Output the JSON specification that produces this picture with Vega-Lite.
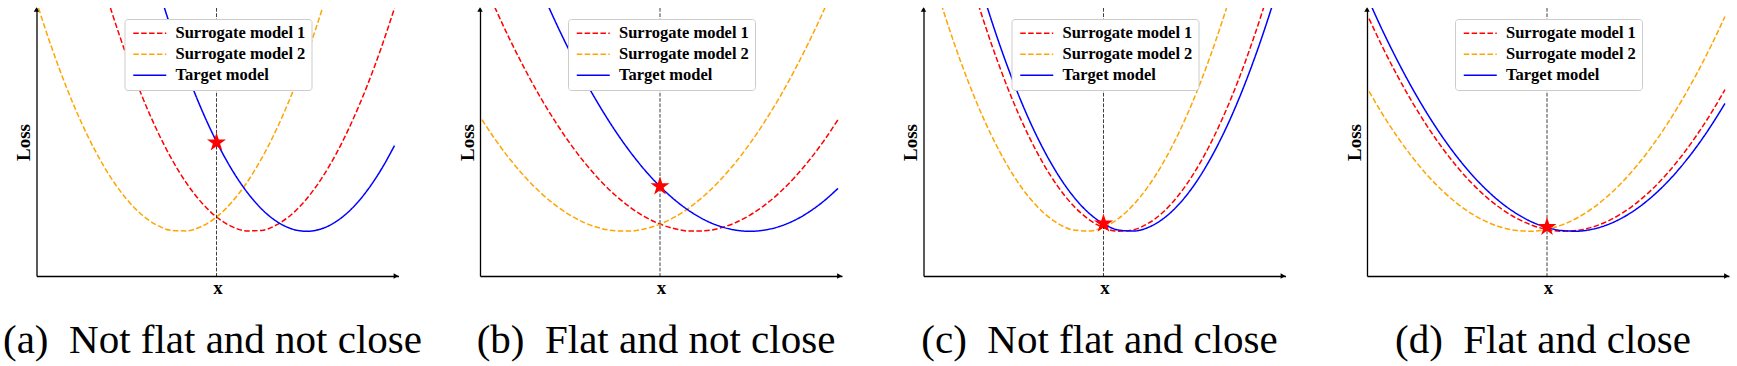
{
  "$schema": "https://vega.github.io/schema/vega-lite/v6.json",
  "padding": {"left": 2.5, "top": 7, "right": 5, "bottom": 5},
  "bounds": "flush",
  "spacing": 81.5,
  "config": {
    "view": {"stroke": null},
    "font": "Liberation Serif",
    "axis": {"domainColor": "black", "domainWidth": 1.3, "ticks": false, "labels": false, "grid": false, "titleFont": "Liberation Serif", "titleFontSize": 19, "titleFontWeight": "bold", "titleColor": "black"},
    "legend": {"labelFont": "Liberation Serif", "labelFontSize": 16.5, "labelFontWeight": "bold", "labelColor": "black", "symbolType": "M-1,0H5", "symbolSize": 121, "symbolStrokeWidth": 1.5, "padding": 6, "rowPadding": 4, "columnPadding": 0, "labelOffset": 28.5, "strokeColor": "#cccccc", "fillColor": "white", "cornerRadius": 3},
    "title": {"font": "Liberation Serif", "fontSize": 41, "fontWeight": "normal", "color": "black", "orient": "bottom", "anchor": "middle", "offset": 24}
  },
  "resolve": {
    "scale": {"x": "independent", "y": "independent", "color": "independent", "strokeDash": "independent", "shape": "independent"},
    "legend": {"color": "independent", "strokeDash": "independent"}
  },
  "datasets": {
    "curves": [
      {"p": "a", "x": 2, "s1": 551.7, "s2": 267.9, "tgt": 839.8},
      {"p": "a", "x": 15, "s1": 491.9, "s2": 228.9, "tgt": 764.5},
      {"p": "a", "x": 30, "s1": 427.7, "s2": 188.6, "tgt": 682.3},
      {"p": "a", "x": 45, "s1": 368.4, "s2": 153.2, "tgt": 605.1},
      {"p": "a", "x": 60, "s1": 314.1, "s2": 122.8, "tgt": 532.9},
      {"p": "a", "x": 75, "s1": 264.8, "s2": 97.4, "tgt": 465.6},
      {"p": "a", "x": 90, "s1": 220.4, "s2": 77.0, "tgt": 403.4},
      {"p": "a", "x": 105, "s1": 181.1, "s2": 61.5, "tgt": 346.1},
      {"p": "a", "x": 120, "s1": 146.7, "s2": 51.1, "tgt": 293.8},
      {"p": "a", "x": 135, "s1": 117.3, "s2": 45.6, "tgt": 246.4},
      {"p": "a", "x": 150, "s1": 92.9, "s2": 45.1, "tgt": 204.1},
      {"p": "a", "x": 165, "s1": 73.5, "s2": 49.6, "tgt": 166.7},
      {"p": "a", "x": 180, "s1": 59.0, "s2": 59.0, "tgt": 134.4},
      {"p": "a", "x": 195, "s1": 49.6, "s2": 73.5, "tgt": 107.0},
      {"p": "a", "x": 210, "s1": 45.1, "s2": 92.9, "tgt": 84.6},
      {"p": "a", "x": 225, "s1": 45.6, "s2": 117.3, "tgt": 67.1},
      {"p": "a", "x": 240, "s1": 51.1, "s2": 146.7, "tgt": 54.7},
      {"p": "a", "x": 255, "s1": 61.5, "s2": 181.1, "tgt": 47.2},
      {"p": "a", "x": 270, "s1": 77.0, "s2": 220.4, "tgt": 44.7},
      {"p": "a", "x": 285, "s1": 97.4, "s2": 264.8, "tgt": 47.2},
      {"p": "a", "x": 300, "s1": 122.8, "s2": 314.1, "tgt": 54.7},
      {"p": "a", "x": 315, "s1": 153.2, "s2": 368.4, "tgt": 67.1},
      {"p": "a", "x": 330, "s1": 188.6, "s2": 427.7, "tgt": 84.6},
      {"p": "a", "x": 345, "s1": 228.9, "s2": 491.9, "tgt": 107.0},
      {"p": "a", "x": 358, "s1": 267.9, "s2": 551.7, "tgt": 130.4},
      {"p": "b", "x": 2, "s1": 298.2, "s2": 156.3, "tgt": 442.3},
      {"p": "b", "x": 15, "s1": 268.3, "s2": 136.8, "tgt": 404.6},
      {"p": "b", "x": 30, "s1": 236.2, "s2": 116.7, "tgt": 363.5},
      {"p": "b", "x": 45, "s1": 206.6, "s2": 99.0, "tgt": 324.9},
      {"p": "b", "x": 60, "s1": 179.4, "s2": 83.8, "tgt": 288.8},
      {"p": "b", "x": 75, "s1": 154.8, "s2": 71.1, "tgt": 255.2},
      {"p": "b", "x": 90, "s1": 132.6, "s2": 60.9, "tgt": 224.1},
      {"p": "b", "x": 105, "s1": 112.9, "s2": 53.1, "tgt": 195.4},
      {"p": "b", "x": 120, "s1": 95.7, "s2": 47.9, "tgt": 169.3},
      {"p": "b", "x": 135, "s1": 81.0, "s2": 45.2, "tgt": 145.6},
      {"p": "b", "x": 150, "s1": 68.8, "s2": 44.9, "tgt": 124.4},
      {"p": "b", "x": 165, "s1": 59.1, "s2": 47.2, "tgt": 105.7},
      {"p": "b", "x": 180, "s1": 51.9, "s2": 51.9, "tgt": 89.6},
      {"p": "b", "x": 195, "s1": 47.2, "s2": 59.1, "tgt": 75.9},
      {"p": "b", "x": 210, "s1": 44.9, "s2": 68.8, "tgt": 64.7},
      {"p": "b", "x": 225, "s1": 45.2, "s2": 81.0, "tgt": 55.9},
      {"p": "b", "x": 240, "s1": 47.9, "s2": 95.7, "tgt": 49.7},
      {"p": "b", "x": 255, "s1": 53.1, "s2": 112.9, "tgt": 46.0},
      {"p": "b", "x": 270, "s1": 60.9, "s2": 132.6, "tgt": 44.7},
      {"p": "b", "x": 285, "s1": 71.1, "s2": 154.8, "tgt": 46.0},
      {"p": "b", "x": 300, "s1": 83.8, "s2": 179.4, "tgt": 49.7},
      {"p": "b", "x": 315, "s1": 99.0, "s2": 206.6, "tgt": 55.9},
      {"p": "b", "x": 330, "s1": 116.7, "s2": 236.2, "tgt": 64.7},
      {"p": "b", "x": 345, "s1": 136.8, "s2": 268.3, "tgt": 75.9},
      {"p": "b", "x": 358, "s1": 156.3, "s2": 298.2, "tgt": 87.6},
      {"p": "c", "x": 2, "s1": 470.0, "s2": 324.6, "tgt": 505.4},
      {"p": "c", "x": 15, "s1": 415.4, "s2": 280.7, "tgt": 448.5},
      {"p": "c", "x": 30, "s1": 357.1, "s2": 234.7, "tgt": 387.6},
      {"p": "c", "x": 45, "s1": 303.8, "s2": 193.7, "tgt": 331.6},
      {"p": "c", "x": 60, "s1": 255.5, "s2": 157.6, "tgt": 280.7},
      {"p": "c", "x": 75, "s1": 212.2, "s2": 126.6, "tgt": 234.7},
      {"p": "c", "x": 90, "s1": 173.8, "s2": 100.5, "tgt": 193.7},
      {"p": "c", "x": 105, "s1": 140.4, "s2": 79.4, "tgt": 157.6},
      {"p": "c", "x": 120, "s1": 112.0, "s2": 63.3, "tgt": 126.6},
      {"p": "c", "x": 135, "s1": 88.6, "s2": 52.2, "tgt": 100.5},
      {"p": "c", "x": 150, "s1": 70.2, "s2": 46.0, "tgt": 79.4},
      {"p": "c", "x": 165, "s1": 56.8, "s2": 44.9, "tgt": 63.3},
      {"p": "c", "x": 180, "s1": 48.3, "s2": 48.7, "tgt": 52.2},
      {"p": "c", "x": 195, "s1": 44.8, "s2": 57.5, "tgt": 46.0},
      {"p": "c", "x": 210, "s1": 46.3, "s2": 71.3, "tgt": 44.9},
      {"p": "c", "x": 225, "s1": 52.8, "s2": 90.0, "tgt": 48.7},
      {"p": "c", "x": 240, "s1": 64.2, "s2": 113.8, "tgt": 57.5},
      {"p": "c", "x": 255, "s1": 80.7, "s2": 142.5, "tgt": 71.3},
      {"p": "c", "x": 270, "s1": 102.1, "s2": 176.2, "tgt": 90.0},
      {"p": "c", "x": 285, "s1": 128.5, "s2": 214.9, "tgt": 113.8},
      {"p": "c", "x": 300, "s1": 159.9, "s2": 258.6, "tgt": 142.5},
      {"p": "c", "x": 315, "s1": 196.2, "s2": 307.2, "tgt": 176.2},
      {"p": "c", "x": 330, "s1": 237.6, "s2": 360.9, "tgt": 214.9},
      {"p": "c", "x": 345, "s1": 283.9, "s2": 419.5, "tgt": 258.6},
      {"p": "c", "x": 358, "s1": 328.1, "s2": 474.3, "tgt": 300.5},
      {"p": "d", "x": 2, "s1": 257.4, "s2": 184.7, "tgt": 275.1},
      {"p": "d", "x": 15, "s1": 230.1, "s2": 162.7, "tgt": 246.6},
      {"p": "d", "x": 30, "s1": 200.9, "s2": 139.7, "tgt": 216.2},
      {"p": "d", "x": 45, "s1": 174.3, "s2": 119.2, "tgt": 188.2},
      {"p": "d", "x": 60, "s1": 150.1, "s2": 101.2, "tgt": 162.7},
      {"p": "d", "x": 75, "s1": 128.5, "s2": 85.7, "tgt": 139.7},
      {"p": "d", "x": 90, "s1": 109.3, "s2": 72.6, "tgt": 119.2},
      {"p": "d", "x": 105, "s1": 92.6, "s2": 62.1, "tgt": 101.2},
      {"p": "d", "x": 120, "s1": 78.4, "s2": 54.0, "tgt": 85.7},
      {"p": "d", "x": 135, "s1": 66.7, "s2": 48.5, "tgt": 72.6},
      {"p": "d", "x": 150, "s1": 57.5, "s2": 45.4, "tgt": 62.1},
      {"p": "d", "x": 165, "s1": 50.8, "s2": 44.8, "tgt": 54.0},
      {"p": "d", "x": 180, "s1": 46.5, "s2": 46.7, "tgt": 48.5},
      {"p": "d", "x": 195, "s1": 44.8, "s2": 51.1, "tgt": 45.4},
      {"p": "d", "x": 210, "s1": 45.5, "s2": 58.0, "tgt": 44.8},
      {"p": "d", "x": 225, "s1": 48.8, "s2": 67.4, "tgt": 46.7},
      {"p": "d", "x": 240, "s1": 54.5, "s2": 79.3, "tgt": 51.1},
      {"p": "d", "x": 255, "s1": 62.7, "s2": 93.6, "tgt": 58.0},
      {"p": "d", "x": 270, "s1": 73.4, "s2": 110.5, "tgt": 67.4},
      {"p": "d", "x": 285, "s1": 86.6, "s2": 129.8, "tgt": 79.3},
      {"p": "d", "x": 300, "s1": 102.3, "s2": 151.7, "tgt": 93.6},
      {"p": "d", "x": 315, "s1": 120.5, "s2": 176.0, "tgt": 110.5},
      {"p": "d", "x": 330, "s1": 141.2, "s2": 202.8, "tgt": 129.8},
      {"p": "d", "x": 345, "s1": 164.3, "s2": 232.1, "tgt": 151.7},
      {"p": "d", "x": 358, "s1": 186.4, "s2": 259.5, "tgt": 172.6}
    ],
    "stars": [
      {"p": "a", "x": 180, "y": 133.5},
      {"p": "b", "x": 180, "y": 89.6},
      {"p": "c", "x": 180, "y": 52.4},
      {"p": "d", "x": 180, "y": 49.0}
    ],
    "arrows": [
      {"axis": "x", "x": 359.5, "y": 0},
      {"axis": "y", "x": 0, "y": 266.5}
    ]
  },
  "hconcat": [
    {
      "width": 362, "height": 268,
      "title": {"text": "(a)\u00a0 Not flat and not close", "dx": -5},
      "layer": [
        {"data": {"name": "curves"},
         "transform": [{"filter": "datum.p == 'a'"}, {"fold": ["s1", "s2", "tgt"], "as": ["model", "loss"]}],
         "mark": {"type": "line", "clip": true, "interpolate": "monotone", "strokeWidth": 1.5},
         "encoding": {
           "x": {"field": "x", "type": "quantitative", "scale": {"domain": [0, 362], "nice": false}, "axis": {"title": "x", "titleFontSize": 19, "titleFontWeight": "bold", "titleFont": "Liberation Serif", "titleColor": "black", "titlePadding": 2, "domainWidth": 1.3, "domainColor": "black", "ticks": false, "labels": false, "grid": false}},
           "y": {"field": "loss", "type": "quantitative", "scale": {"domain": [0, 268], "nice": false}, "axis": {"title": "Loss", "titleFontSize": 19, "titleFontWeight": "bold", "titleFont": "Liberation Serif", "titleColor": "black", "titlePadding": 3, "domainWidth": 1.3, "domainColor": "black", "ticks": false, "labels": false, "grid": false}},
           "color": {"field": "model", "type": "nominal", "scale": {"domain": ["s1", "s2", "tgt"], "range": ["#ff0000", "#ffa500", "#0000ff"]},
                     "legend": {"title": null, "orient": "none", "legendX": 88, "legendY": 11, "labelExpr": "datum.value == 's1' ? 'Surrogate model 1' : datum.value == 's2' ? 'Surrogate model 2' : 'Target model'"}},
           "strokeDash": {"field": "model", "type": "nominal", "scale": {"domain": ["s1", "s2", "tgt"], "range": [[5.5, 2.4], [5.5, 2.4], [1, 0]]},
                     "legend": {"title": null, "orient": "none", "legendX": 88, "legendY": 11, "labelExpr": "datum.value == 's1' ? 'Surrogate model 1' : datum.value == 's2' ? 'Surrogate model 2' : 'Target model'"}}
         }},
        {"data": {"name": "stars"}, "transform": [{"filter": "datum.p == 'a'"}],
         "mark": {"type": "rule", "color": "black", "opacity": 0.75, "strokeWidth": 1, "strokeDash": [3.7, 1.6]},
         "encoding": {"x": {"field": "x", "type": "quantitative", "scale": {"domain": [0, 362], "nice": false}, "title": "x"}}},
        {"data": {"name": "stars"}, "transform": [{"filter": "datum.p == 'a'"}],
         "mark": {"type": "point", "shape": "M0,-1L0.2245,-0.309L0.9511,-0.309L0.3633,0.118L0.5878,0.809L0,0.382L-0.5878,0.809L-0.3633,0.118L-0.9511,-0.309L-0.2245,-0.309Z", "filled": true, "color": "#ff0000", "opacity": 1, "size": 400},
         "encoding": {"x": {"field": "x", "type": "quantitative", "scale": {"domain": [0, 362], "nice": false}, "title": "x"},
                      "y": {"field": "y", "type": "quantitative", "scale": {"domain": [0, 268], "nice": false}, "title": "Loss"}}},
        {"data": {"name": "arrows"},
         "mark": {"type": "point", "filled": true, "color": "black", "opacity": 1, "size": 30},
         "encoding": {"x": {"field": "x", "type": "quantitative", "scale": {"domain": [0, 362], "nice": false}, "title": "x"},
                      "y": {"field": "y", "type": "quantitative", "scale": {"domain": [0, 268], "nice": false}, "title": "Loss"},
                      "shape": {"field": "axis", "type": "nominal", "scale": {"domain": ["x", "y"], "range": ["triangle-right", "triangle-up"]}, "legend": null}}}
      ]
    },
    {
      "width": 362, "height": 268,
      "title": {"text": "(b)\u00a0 Flat and not close", "dx": -5},
      "layer": [
        {"data": {"name": "curves"},
         "transform": [{"filter": "datum.p == 'b'"}, {"fold": ["s1", "s2", "tgt"], "as": ["model", "loss"]}],
         "mark": {"type": "line", "clip": true, "interpolate": "monotone", "strokeWidth": 1.5},
         "encoding": {
           "x": {"field": "x", "type": "quantitative", "scale": {"domain": [0, 362], "nice": false}, "axis": {"title": "x", "titleFontSize": 19, "titleFontWeight": "bold", "titleFont": "Liberation Serif", "titleColor": "black", "titlePadding": 2, "domainWidth": 1.3, "domainColor": "black", "ticks": false, "labels": false, "grid": false}},
           "y": {"field": "loss", "type": "quantitative", "scale": {"domain": [0, 268], "nice": false}, "axis": {"title": "Loss", "titleFontSize": 19, "titleFontWeight": "bold", "titleFont": "Liberation Serif", "titleColor": "black", "titlePadding": 3, "domainWidth": 1.3, "domainColor": "black", "ticks": false, "labels": false, "grid": false}},
           "color": {"field": "model", "type": "nominal", "scale": {"domain": ["s1", "s2", "tgt"], "range": ["#ff0000", "#ffa500", "#0000ff"]},
                     "legend": {"title": null, "orient": "none", "legendX": 88, "legendY": 11, "labelExpr": "datum.value == 's1' ? 'Surrogate model 1' : datum.value == 's2' ? 'Surrogate model 2' : 'Target model'"}},
           "strokeDash": {"field": "model", "type": "nominal", "scale": {"domain": ["s1", "s2", "tgt"], "range": [[5.5, 2.4], [5.5, 2.4], [1, 0]]},
                     "legend": {"title": null, "orient": "none", "legendX": 88, "legendY": 11, "labelExpr": "datum.value == 's1' ? 'Surrogate model 1' : datum.value == 's2' ? 'Surrogate model 2' : 'Target model'"}}
         }},
        {"data": {"name": "stars"}, "transform": [{"filter": "datum.p == 'b'"}],
         "mark": {"type": "rule", "color": "black", "opacity": 0.75, "strokeWidth": 1, "strokeDash": [3.7, 1.6]},
         "encoding": {"x": {"field": "x", "type": "quantitative", "scale": {"domain": [0, 362], "nice": false}, "title": "x"}}},
        {"data": {"name": "stars"}, "transform": [{"filter": "datum.p == 'b'"}],
         "mark": {"type": "point", "shape": "M0,-1L0.2245,-0.309L0.9511,-0.309L0.3633,0.118L0.5878,0.809L0,0.382L-0.5878,0.809L-0.3633,0.118L-0.9511,-0.309L-0.2245,-0.309Z", "filled": true, "color": "#ff0000", "opacity": 1, "size": 400},
         "encoding": {"x": {"field": "x", "type": "quantitative", "scale": {"domain": [0, 362], "nice": false}, "title": "x"},
                      "y": {"field": "y", "type": "quantitative", "scale": {"domain": [0, 268], "nice": false}, "title": "Loss"}}},
        {"data": {"name": "arrows"},
         "mark": {"type": "point", "filled": true, "color": "black", "opacity": 1, "size": 30},
         "encoding": {"x": {"field": "x", "type": "quantitative", "scale": {"domain": [0, 362], "nice": false}, "title": "x"},
                      "y": {"field": "y", "type": "quantitative", "scale": {"domain": [0, 268], "nice": false}, "title": "Loss"},
                      "shape": {"field": "axis", "type": "nominal", "scale": {"domain": ["x", "y"], "range": ["triangle-right", "triangle-up"]}, "legend": null}}}
      ]
    },
    {
      "width": 362, "height": 268,
      "title": {"text": "(c)\u00a0 Not flat and close", "dx": -5},
      "layer": [
        {"data": {"name": "curves"},
         "transform": [{"filter": "datum.p == 'c'"}, {"fold": ["s1", "s2", "tgt"], "as": ["model", "loss"]}],
         "mark": {"type": "line", "clip": true, "interpolate": "monotone", "strokeWidth": 1.5},
         "encoding": {
           "x": {"field": "x", "type": "quantitative", "scale": {"domain": [0, 362], "nice": false}, "axis": {"title": "x", "titleFontSize": 19, "titleFontWeight": "bold", "titleFont": "Liberation Serif", "titleColor": "black", "titlePadding": 2, "domainWidth": 1.3, "domainColor": "black", "ticks": false, "labels": false, "grid": false}},
           "y": {"field": "loss", "type": "quantitative", "scale": {"domain": [0, 268], "nice": false}, "axis": {"title": "Loss", "titleFontSize": 19, "titleFontWeight": "bold", "titleFont": "Liberation Serif", "titleColor": "black", "titlePadding": 3, "domainWidth": 1.3, "domainColor": "black", "ticks": false, "labels": false, "grid": false}},
           "color": {"field": "model", "type": "nominal", "scale": {"domain": ["s1", "s2", "tgt"], "range": ["#ff0000", "#ffa500", "#0000ff"]},
                     "legend": {"title": null, "orient": "none", "legendX": 88, "legendY": 11, "labelExpr": "datum.value == 's1' ? 'Surrogate model 1' : datum.value == 's2' ? 'Surrogate model 2' : 'Target model'"}},
           "strokeDash": {"field": "model", "type": "nominal", "scale": {"domain": ["s1", "s2", "tgt"], "range": [[5.5, 2.4], [5.5, 2.4], [1, 0]]},
                     "legend": {"title": null, "orient": "none", "legendX": 88, "legendY": 11, "labelExpr": "datum.value == 's1' ? 'Surrogate model 1' : datum.value == 's2' ? 'Surrogate model 2' : 'Target model'"}}
         }},
        {"data": {"name": "stars"}, "transform": [{"filter": "datum.p == 'c'"}],
         "mark": {"type": "rule", "color": "black", "opacity": 0.75, "strokeWidth": 1, "strokeDash": [3.7, 1.6]},
         "encoding": {"x": {"field": "x", "type": "quantitative", "scale": {"domain": [0, 362], "nice": false}, "title": "x"}}},
        {"data": {"name": "stars"}, "transform": [{"filter": "datum.p == 'c'"}],
         "mark": {"type": "point", "shape": "M0,-1L0.2245,-0.309L0.9511,-0.309L0.3633,0.118L0.5878,0.809L0,0.382L-0.5878,0.809L-0.3633,0.118L-0.9511,-0.309L-0.2245,-0.309Z", "filled": true, "color": "#ff0000", "opacity": 1, "size": 400},
         "encoding": {"x": {"field": "x", "type": "quantitative", "scale": {"domain": [0, 362], "nice": false}, "title": "x"},
                      "y": {"field": "y", "type": "quantitative", "scale": {"domain": [0, 268], "nice": false}, "title": "Loss"}}},
        {"data": {"name": "arrows"},
         "mark": {"type": "point", "filled": true, "color": "black", "opacity": 1, "size": 30},
         "encoding": {"x": {"field": "x", "type": "quantitative", "scale": {"domain": [0, 362], "nice": false}, "title": "x"},
                      "y": {"field": "y", "type": "quantitative", "scale": {"domain": [0, 268], "nice": false}, "title": "Loss"},
                      "shape": {"field": "axis", "type": "nominal", "scale": {"domain": ["x", "y"], "range": ["triangle-right", "triangle-up"]}, "legend": null}}}
      ]
    },
    {
      "width": 362, "height": 268,
      "title": {"text": "(d)\u00a0 Flat and close", "dx": -5},
      "layer": [
        {"data": {"name": "curves"},
         "transform": [{"filter": "datum.p == 'd'"}, {"fold": ["s1", "s2", "tgt"], "as": ["model", "loss"]}],
         "mark": {"type": "line", "clip": true, "interpolate": "monotone", "strokeWidth": 1.5},
         "encoding": {
           "x": {"field": "x", "type": "quantitative", "scale": {"domain": [0, 362], "nice": false}, "axis": {"title": "x", "titleFontSize": 19, "titleFontWeight": "bold", "titleFont": "Liberation Serif", "titleColor": "black", "titlePadding": 2, "domainWidth": 1.3, "domainColor": "black", "ticks": false, "labels": false, "grid": false}},
           "y": {"field": "loss", "type": "quantitative", "scale": {"domain": [0, 268], "nice": false}, "axis": {"title": "Loss", "titleFontSize": 19, "titleFontWeight": "bold", "titleFont": "Liberation Serif", "titleColor": "black", "titlePadding": 3, "domainWidth": 1.3, "domainColor": "black", "ticks": false, "labels": false, "grid": false}},
           "color": {"field": "model", "type": "nominal", "scale": {"domain": ["s1", "s2", "tgt"], "range": ["#ff0000", "#ffa500", "#0000ff"]},
                     "legend": {"title": null, "orient": "none", "legendX": 88, "legendY": 11, "labelExpr": "datum.value == 's1' ? 'Surrogate model 1' : datum.value == 's2' ? 'Surrogate model 2' : 'Target model'"}},
           "strokeDash": {"field": "model", "type": "nominal", "scale": {"domain": ["s1", "s2", "tgt"], "range": [[5.5, 2.4], [5.5, 2.4], [1, 0]]},
                     "legend": {"title": null, "orient": "none", "legendX": 88, "legendY": 11, "labelExpr": "datum.value == 's1' ? 'Surrogate model 1' : datum.value == 's2' ? 'Surrogate model 2' : 'Target model'"}}
         }},
        {"data": {"name": "stars"}, "transform": [{"filter": "datum.p == 'd'"}],
         "mark": {"type": "rule", "color": "black", "opacity": 0.75, "strokeWidth": 1, "strokeDash": [3.7, 1.6]},
         "encoding": {"x": {"field": "x", "type": "quantitative", "scale": {"domain": [0, 362], "nice": false}, "title": "x"}}},
        {"data": {"name": "stars"}, "transform": [{"filter": "datum.p == 'd'"}],
         "mark": {"type": "point", "shape": "M0,-1L0.2245,-0.309L0.9511,-0.309L0.3633,0.118L0.5878,0.809L0,0.382L-0.5878,0.809L-0.3633,0.118L-0.9511,-0.309L-0.2245,-0.309Z", "filled": true, "color": "#ff0000", "opacity": 1, "size": 400},
         "encoding": {"x": {"field": "x", "type": "quantitative", "scale": {"domain": [0, 362], "nice": false}, "title": "x"},
                      "y": {"field": "y", "type": "quantitative", "scale": {"domain": [0, 268], "nice": false}, "title": "Loss"}}},
        {"data": {"name": "arrows"},
         "mark": {"type": "point", "filled": true, "color": "black", "opacity": 1, "size": 30},
         "encoding": {"x": {"field": "x", "type": "quantitative", "scale": {"domain": [0, 362], "nice": false}, "title": "x"},
                      "y": {"field": "y", "type": "quantitative", "scale": {"domain": [0, 268], "nice": false}, "title": "Loss"},
                      "shape": {"field": "axis", "type": "nominal", "scale": {"domain": ["x", "y"], "range": ["triangle-right", "triangle-up"]}, "legend": null}}}
      ]
    }
  ]
}
